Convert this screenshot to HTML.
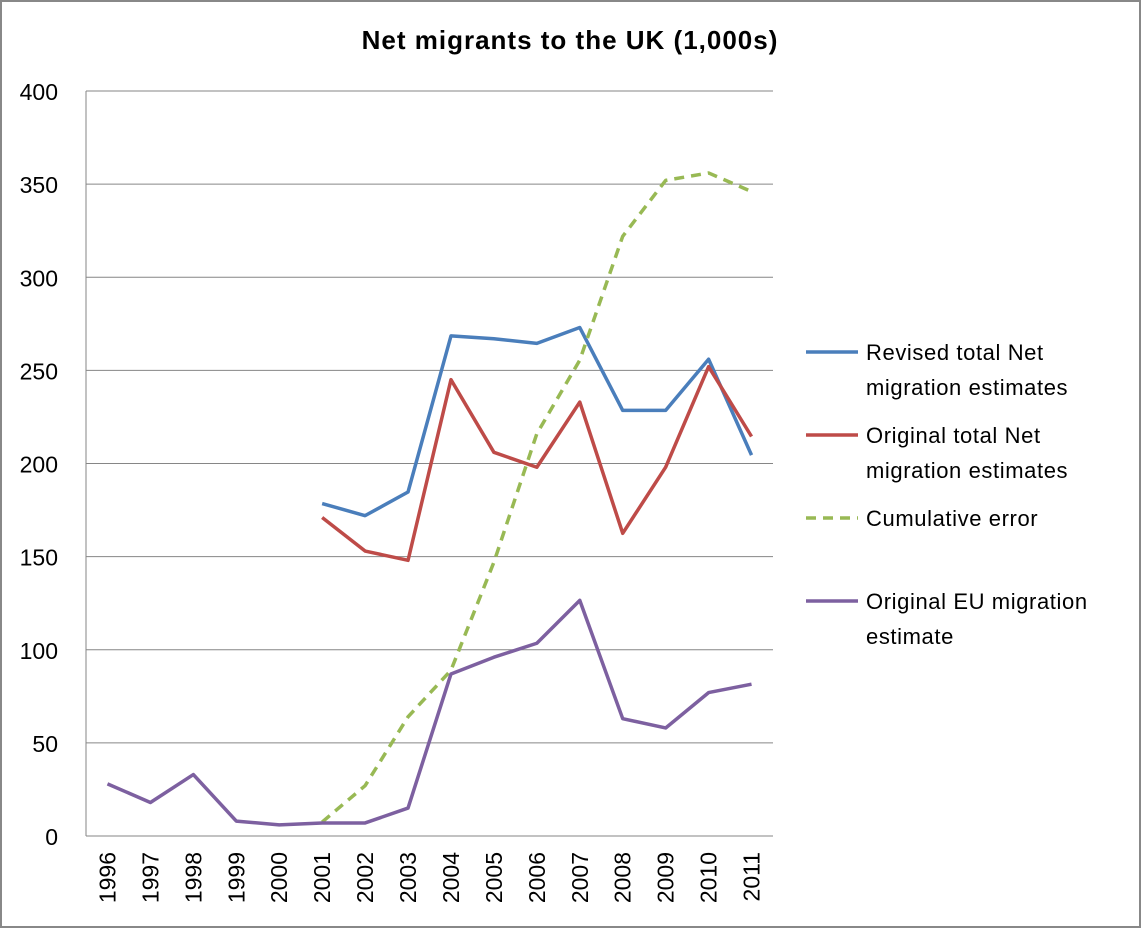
<!DOCTYPE html>
<html><head><meta charset="utf-8"><style>
html,body{margin:0;padding:0;background:#fff;}
svg{display:block;font-family:"Liberation Sans",sans-serif;}
</style></head><body>
<svg id="chart" width="1141" height="928">
<rect x="1" y="1" width="1139" height="926" fill="#fff" stroke="#888" stroke-width="2"/>
<text x="570" y="49" text-anchor="middle" font-size="26" font-weight="bold" letter-spacing="1">Net migrants to the UK (1,000s)</text>
<g id="grid"></g><g id="axes"></g><g id="series"></g><g id="legend"></g>
</svg>
<script>
const categories=["1996","1997","1998","1999","2000","2001","2002","2003","2004","2005","2006","2007","2008","2009","2010","2011"];
const yTicks=[0,50,100,150,200,250,300,350,400];
const revised=[null,null,null,null,null,178.5,172,184.7,268.5,267,264.5,273,228.5,228.5,256,204.5];
const original=[null,null,null,null,null,171,153,148,245,206,198,233,162.5,198,252,214.5];
const cumulative=[null,null,null,null,null,7.5,27,64,89,147,216,255.5,322,352,356,346];
const euOriginal=[28,18,33,8,6,7,7,15,87,96,103.5,126.5,63,58,77,81.5];
const names=["Revised total Net|migration estimates","Original total Net|migration estimates","Cumulative error","Original EU migration|estimate"];
const NS="http://www.w3.org/2000/svg";
const L=86,R=773,T=91,B=836;
const bw=(R-L)/categories.length;
const xs=i=>L+bw*(i+0.5);
const ys=v=>B-(v/400)*(B-T);
function mk(tag,attrs,parent){const e=document.createElementNS(NS,tag);for(const k in attrs)e.setAttribute(k,attrs[k]);document.getElementById(parent).appendChild(e);return e;}
yTicks.forEach(t=>{
  const l=mk('line',{x1:L,x2:R,y1:ys(t),y2:ys(t),stroke:'#868686','stroke-width':1},'grid');
  
  
  const tx=mk('text',{x:58,y:ys(t)+9,'text-anchor':'end','font-size':23},'axes');
  tx.textContent=t;
  
  
});
const ax=mk('line',{x1:L,x2:L,y1:T,y2:B,stroke:'#868686'},'axes');


categories.forEach((c,i)=>{
  const tx=mk('text',{transform:`translate(${xs(i)+8},852) rotate(-90)`,'text-anchor':'end','font-size':23},'axes');
  tx.textContent=c;
  
  
});
const series=[[revised,'#4a7ebb',''],[original,'#be4b48',''],[cumulative,'#98b954','10,7'],[euOriginal,'#7d60a0','']];
const keys=['revised-line','original-line','cumulative-error-line','eu-original-line'];
series.forEach((s,k)=>{
  let d='';s[0].forEach((v,i)=>{if(v==null)return;d+=(d?'L':'M')+xs(i)+','+ys(v);});
  const p=mk('path',{d:d,fill:'none',stroke:s[1],'stroke-width':3.5,'stroke-dasharray':s[2],'stroke-linejoin':'round'},'series');
  
  
});
const legY=[352,435,518,601];
names.forEach((n,k)=>{
  const ln=mk('line',{x1:806,x2:858,y1:legY[k],y2:legY[k],stroke:series[k][1],'stroke-width':3.5,'stroke-dasharray':series[k][2]},'legend');
  
  
  n.split('|').forEach((part,j)=>{
    const t=mk('text',{x:866,y:legY[k]+8+j*35,'font-size':22,'letter-spacing':0.6},'legend');
    t.textContent=part;
    
    
  });
});
</script>
</body></html>
